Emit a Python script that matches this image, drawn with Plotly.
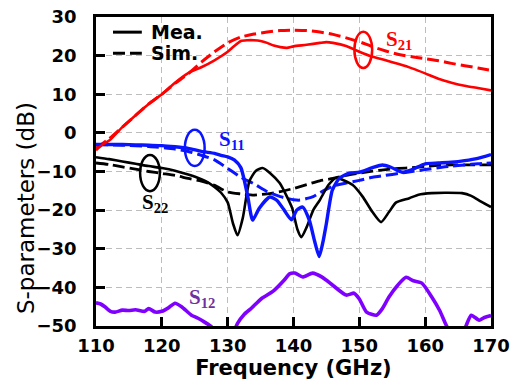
import plotly.graph_objects as go

# frequency (GHz) / magnitude (dB) pairs
s21_mea_f = [110, 111, 112, 114, 116, 118, 120, 122, 124, 126, 128, 130, 131, 132, 133, 134, 135, 136, 137, 138,
             139, 140, 142, 144, 145, 146, 148, 150, 152, 154, 156, 158, 160, 162, 164, 166, 168, 170]
s21_mea_db = [-4.5, -3, -2, 1.5, 4.5, 7.5, 10, 13, 15.5, 17, 18.8, 21, 22.5, 23.8, 24, 24, 23.8, 23.3, 22.6, 22.2,
              22, 22.4, 22.8, 23.3, 23.5, 23.3, 22.5, 21, 19.7, 18.8, 17.8, 16.7, 15.4, 14, 13, 12.2, 11.6, 11]

s21_sim_f = [110, 112, 114, 116, 118, 120, 122, 124, 126, 128, 130, 132, 134, 136, 138, 140, 142, 144, 146, 148,
             150, 152, 154, 156, 158, 160, 162, 164, 166, 168, 170]
s21_sim_db = [-4, -1.5, 1.5, 4.5, 7.5, 10, 12.8, 15.3, 18.3, 21, 23.3, 24.8, 25.6, 26.1, 26.5, 26.6, 26.5, 26.1,
              25.5, 24.6, 23.6, 22.3, 21.2, 20.3, 19.7, 19.2, 18.7, 18, 17.4, 16.8, 16.2]

s11_mea_f = [110, 112, 114, 116, 118, 120, 122, 124, 126, 128, 129, 130, 131, 132, 133, 133.8, 134.8, 136.4, 137.5,
             138.5, 139.7, 140.5, 141.4, 142.4, 143.2, 143.9, 144.5, 145, 145.9, 147, 148.5, 150, 152, 153.5,
             154.8, 156.5, 158, 160, 162, 164, 166, 168, 170]
s11_mea_db = [-3, -3, -3, -3.1, -3.2, -3.3, -3.6, -4, -4.8, -5.3, -5.8, -6.2, -7, -9, -16, -22.6, -19.5, -16.6, -17.5,
              -19.8, -22.5, -20, -19.2, -22.6, -28, -32, -28, -23.4, -14.8, -11.7, -10.4, -10.2, -9, -8.3,
              -8.9, -10.2, -9.5, -8, -7.8, -7.6, -7.2, -6.6, -5.6]

s11_sim_f = [110, 114, 118, 122, 124, 126, 128, 130, 132, 134, 136, 138, 140, 141, 142, 143, 144, 146, 148, 150,
             152, 154, 156, 158, 160, 162, 164, 166, 168, 170]
s11_sim_db = [-3, -3.2, -3.5, -4.2, -4.8, -5.8, -7, -9.2, -11.5, -13.2, -15.2, -16.5, -17.3, -17.4, -17, -16.5,
              -15.5, -13.8, -13, -12.3, -11.5, -11, -10.5, -10, -9.5, -9, -8.6, -8.3, -8, -7.8]

s22_mea_f = [110, 112, 114, 116, 118, 120, 122, 124, 126, 127, 128, 129, 130, 130.8, 131.5, 132.3, 133.3, 134.3,
             135.3, 136.5, 137.9, 139, 139.8, 140.6, 141.2, 142, 143, 144, 145.3, 146.5, 147.5, 149, 150.5, 152,
             153.3, 154.5, 155.6, 157.6, 159, 161, 163, 165.6, 167, 168.5, 170]
s22_mea_db = [-6.3, -6.8, -7.4, -8, -8.6, -9.1, -9.8, -10.8, -12, -12.8, -14, -15.5, -18, -23.4, -26.5, -22, -12.5,
              -9.8, -9.1, -10.5, -13, -16.5, -19.5, -25, -27, -24.4, -20, -17.4, -13.5, -11.6, -12.2, -13.5, -16.5,
              -20.5, -23.1, -20.5, -18, -16.9, -16, -15.6, -15.5, -15.6, -16.3, -17.8, -19.2]

s22_sim_f = [110, 112, 114, 116, 118, 120, 122, 124, 126, 128, 130, 132, 134, 136, 138, 140, 142, 144, 146, 148,
             150, 152, 154, 156, 158, 160, 162, 164, 166, 168, 170]
s22_sim_db = [-7.8, -8.2, -8.8, -9.4, -10, -10.5, -11, -11.8, -12.5, -13.6, -15.3, -15.8, -16.1, -15.8, -15.2,
              -14.4, -13.4, -12.4, -11.8, -11, -10.4, -9.9, -9.5, -9.2, -9, -8.7, -8.4, -8.3, -8.3, -8.3, -8.3]

s12_f = [110, 110.7, 111.4, 112.2, 112.9, 114, 115, 116, 117.4, 118, 119, 120, 121, 122, 123, 124.5, 125.5, 126.5,
         127.6, 129, 130.5, 131.5, 132.5, 133.6, 135.2, 136, 137.1, 138.6, 139.4, 140.2, 141.4, 142.9, 144.4, 146,
         148, 149.2, 150, 151.1, 152.6, 153.5, 154.5, 155.8, 157.1, 158.2, 159.5, 161, 162.2, 163.2, 164.5, 165.5,
         166.2, 167, 168.2, 169, 170]
s12_db = [-44, -44.3, -45.1, -46.2, -46.4, -45.9, -46, -45.8, -46.2, -45.5, -46.4, -46.2, -45.3, -44.1, -45, -47.2,
          -48, -49, -50.3, -54, -53, -49.3, -47, -45.4, -42.8, -42, -40.7, -38.1, -36.5, -36.3, -37.3, -36.3, -37.4,
          -39.5, -42, -41.5, -43, -46.4, -47.2, -45.5, -42.5, -39.5, -37.4, -38.3, -38.9, -42.5, -46, -49.8, -54, -53,
          -50, -47.2, -48.5, -47.8, -47.3]

RED, BLUE, BLACK, PURPLE = "#ff0000", "#0a14ff", "#000000", "#8000ff"
DASH = "12px,5px"

fig = go.Figure()

curves = [
    (s22_sim_f, s22_sim_db, BLACK, 2.8, DASH),
    (s11_sim_f, s11_sim_db, BLUE, 3, DASH),
    (s21_sim_f, s21_sim_db, RED, 3, DASH),
    (s22_mea_f, s22_mea_db, BLACK, 2.6, "solid"),
    (s11_mea_f, s11_mea_db, BLUE, 3.4, "solid"),
    (s21_mea_f, s21_mea_db, RED, 2.6, "solid"),
    (s12_f, s12_db, PURPLE, 3.6, "solid"),
]
for f, db, c, w, d in curves:
    fig.add_trace(go.Scatter(x=f, y=db, mode="lines", showlegend=False,
                             line=dict(color=c, width=w, dash=d, shape="spline", smoothing=0.6)))

# hand-drawn style legend in the top-left corner
for name, dash, ypos in [("Mea.", "solid", 0.951), ("Sim.", DASH, 0.883)]:
    fig.add_shape(type="line", xref="paper", yref="paper", x0=0.043, x1=0.116, y0=ypos, y1=ypos,
                  line=dict(color=BLACK, width=3, dash=dash))
    fig.add_annotation(xref="paper", yref="paper", x=0.135, y=ypos, text=name, showarrow=False,
                       xanchor="left", yanchor="middle",
                       font=dict(family="DejaVu Sans", size=19, color="black", weight="bold"))

# ellipses marking each family of curves
ellipses = [
    (149.25, 151.95, 16.8, 26.2, RED),
    (123.5, 126.5, -8.6, 0.8, BLUE),
    (116.7, 119.7, -15.1, -5.7, BLACK),
]
for x0, x1, y0, y1, c in ellipses:
    fig.add_shape(type="circle", xref="x", yref="y", x0=x0, x1=x1, y0=y0, y1=y1,
                  line=dict(color=c, width=2.5))

labels = [
    ("S<sub>21</sub>", 156.1, 24.0, RED),
    ("S<sub>11</sub>", 130.6, -1.9, BLUE),
    ("S<sub>22</sub>", 118.9, -18.2, BLACK),
    ("S<sub>12</sub>", 126.1, -42.8, "#7030a0"),
]
for txt, x, y, c in labels:
    fig.add_annotation(x=x, y=y, text="<b>" + txt + "</b>", showarrow=False,
                       font=dict(family="Liberation Serif", size=21, color=c))

# y title sits a little below the axis centre in the original
fig.add_annotation(xref="paper", yref="paper", x=-0.177, y=0.382, text="S-parameters (dB)",
                   textangle=-90, showarrow=False, xanchor="center", yanchor="middle",
                   font=dict(family="DejaVu Sans", size=23, color="black"))

axis_common = dict(
    showline=True, linecolor="black", linewidth=2.5, mirror=True,
    ticks="inside", ticklen=9, tickwidth=2.5, tickcolor="black",
    showgrid=True, gridcolor="#bdbdbd", gridwidth=1.2, griddash="6px,4px",
    zeroline=False, automargin=False, ticklabeloverflow="allow",
    tickfont=dict(family="DejaVu Sans", size=18, color="black", weight="bold"),
)

fig.update_xaxes(range=[110, 170], dtick=10, title_text="Frequency (GHz)",
                 title_font=dict(family="DejaVu Sans", size=21, color="black", weight="bold"),
                 title_standoff=4, ticklabelstandoff=2, **axis_common)
fig.update_yaxes(range=[-50, 30], dtick=10, ticklabelstandoff=13, **axis_common)

fig.update_layout(
    width=522, height=383,
    margin=dict(l=96, r=31, t=17, b=57),
    plot_bgcolor="white", paper_bgcolor="white",
    showlegend=False,
)

# drop the default 8 px page margin so the figure sits at the window corner
fig.write_html("out.html", config={"displayModeBar": False},
               post_script="document.body.style.margin='0';")
